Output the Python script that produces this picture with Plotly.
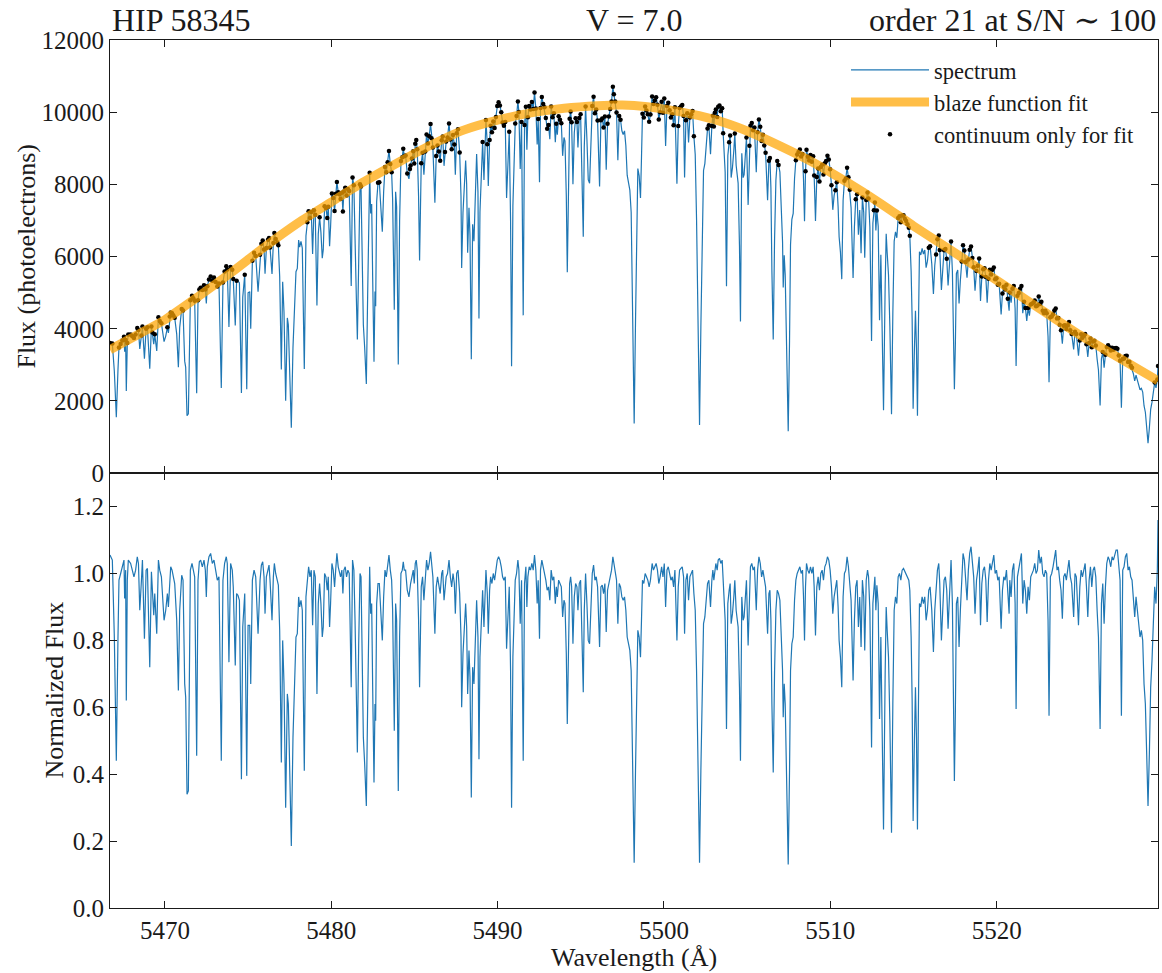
import numpy as np
import plotly.graph_objects as go
from plotly.subplots import make_subplots

# ---- normalized spectrum of echelle order 21, split into wavelength segments ----
WAVE_A = [5466.70, 5466.84, 5466.96, 5467.08, 5467.18, 5467.24, 5467.34, 5467.44, 5467.54, 5467.58,
          5467.64, 5467.68, 5467.74, 5467.80, 5467.94, 5468.04, 5468.14, 5468.24, 5468.34, 5468.41,
          5468.49, 5468.59, 5468.65, 5468.77, 5468.87, 5468.95, 5469.09, 5469.19, 5469.25, 5469.33,
          5469.39, 5469.45, 5469.51, 5469.61, 5469.69, 5469.79, 5469.87, 5469.95, 5470.05, 5470.15,
          5470.21, 5470.29, 5470.35, 5470.43, 5470.51, 5470.59, 5470.71, 5470.81, 5470.89, 5471.01,
          5471.09, 5471.19, 5471.25, 5471.33, 5471.41, 5471.47, 5471.53, 5471.63, 5471.71, 5471.79,
          5471.91, 5471.99, 5472.07, 5472.15, 5472.25, 5472.35, 5472.43, 5472.49, 5472.55, 5472.65,
          5472.75, 5472.85, 5472.95, 5473.05, 5473.15, 5473.25, 5473.39, 5473.49, 5473.59, 5473.69,
          5473.75, 5473.85, 5473.95, 5474.05, 5474.11, 5474.23, 5474.31, 5474.39, 5474.48, 5474.60,
          5474.68, 5474.80, 5474.92, 5475.00, 5475.10, 5475.16, 5475.26, 5475.36, 5475.46, 5475.60,
          5475.72]
NORM_A = [1.055, 1.04, 0.81, 0.44, 0.81, 0.98, 1.00, 1.02, 1.04, 0.925,
          1.01, 0.62, 0.98, 1.04, 1.03, 1.01, 0.99, 1.01, 1.05, 1.03,
          0.89, 0.98, 1.04, 0.805, 1.01, 1.015, 0.72, 1.005, 0.96, 0.875,
          0.94, 0.89, 0.82, 1.04, 1.01, 0.99, 0.93, 0.86, 0.89, 0.94,
          0.90, 1.00, 1.02, 1.01, 0.99, 0.97, 0.86, 0.65, 0.89, 0.995,
          0.98, 0.67, 0.63, 0.34, 0.35, 0.61, 1.01, 1.03, 1.01, 0.99,
          0.455, 0.98, 1.035, 1.04, 1.02, 1.04, 1.01, 0.93, 1.02, 1.05,
          1.06, 1.03, 1.04, 1.01, 0.98, 0.99, 0.44, 0.98, 1.03, 1.05,
          1.03, 0.735, 1.03, 1.01, 0.96, 0.725, 0.94, 0.935, 0.92, 0.385,
          0.84, 0.94, 0.395, 0.845, 0.845, 0.67, 0.98, 1.01, 0.99, 0.82,
          0.98]

WAVE_B = [5475.80, 5475.88, 5475.96, 5476.02, 5476.10, 5476.20, 5476.26, 5476.32, 5476.44, 5476.52,
          5476.58, 5476.66, 5476.76, 5476.82, 5476.90, 5477.00, 5477.08, 5477.16, 5477.26, 5477.36,
          5477.42, 5477.52, 5477.60, 5477.70, 5477.78, 5477.88, 5477.96, 5478.04, 5478.10, 5478.18,
          5478.26, 5478.38, 5478.48, 5478.56, 5478.64, 5478.72, 5478.80, 5478.88, 5478.96, 5479.04,
          5479.14, 5479.22, 5479.30, 5479.38, 5479.46, 5479.52, 5479.60, 5479.68, 5479.76, 5479.82,
          5479.90, 5479.96, 5480.04, 5480.12, 5480.20, 5480.28, 5480.34, 5480.42, 5480.48, 5480.56,
          5480.64, 5480.70, 5480.76, 5480.84, 5480.92, 5481.00, 5481.08, 5481.20, 5481.28, 5481.36,
          5481.43, 5481.51, 5481.57, 5481.65, 5481.73, 5481.79, 5481.87, 5481.93, 5482.01, 5482.11,
          5482.19, 5482.25, 5482.31, 5482.37, 5482.43, 5482.49, 5482.57, 5482.63, 5482.67, 5482.73,
          5482.81, 5482.89, 5482.95, 5483.07, 5483.15, 5483.23, 5483.31, 5483.39, 5483.47, 5483.55,
          5483.63, 5483.69, 5483.79, 5483.87, 5483.93, 5484.03, 5484.11, 5484.19, 5484.27, 5484.33,
          5484.39, 5484.47, 5484.57, 5484.67, 5484.73]
NORM_B = [1.025, 1.035, 0.99, 0.88, 0.99, 1.02, 1.025, 0.98, 0.86, 0.99,
          1.03, 1.00, 0.98, 0.965, 0.83, 0.435, 0.80, 0.67, 0.30, 0.64,
          0.61, 0.36, 0.185, 0.51, 0.67, 0.81, 0.82, 0.93, 0.90, 0.92,
          0.89, 0.41, 0.93, 0.98, 1.02, 0.99, 1.01, 0.845, 1.01, 0.99,
          0.64, 0.91, 0.97, 0.91, 0.81, 0.84, 1.00, 0.99, 0.95, 0.99,
          0.84, 0.91, 1.03, 1.01, 0.96, 1.02, 1.06, 1.02, 1.01, 0.99,
          1.01, 0.94, 1.01, 1.02, 0.99, 1.01, 1.00, 0.66, 1.04, 1.01,
          0.86, 0.61, 0.465, 0.79, 1.00, 0.99, 0.75, 0.51, 0.43, 0.305,
          0.61, 0.78, 1.02, 0.88, 0.91, 0.66, 0.375, 0.61, 0.56, 0.91,
          0.97, 0.97, 0.91, 0.80, 0.93, 1.01, 0.99, 1.02, 1.055, 1.01,
          0.98, 0.89, 0.53, 0.91, 0.86, 0.35, 0.81, 1.00, 1.01, 1.035,
          1.01, 1.01, 0.95, 0.93, 0.96]

WAVE_C = [5484.77, 5484.85, 5484.93, 5484.99, 5485.05, 5485.11, 5485.17, 5485.25, 5485.31, 5485.41,
          5485.49, 5485.57, 5485.65, 5485.73, 5485.81, 5485.89, 5485.97, 5486.03, 5486.11, 5486.23,
          5486.31, 5486.39, 5486.47, 5486.55, 5486.64, 5486.70, 5486.78, 5486.84, 5486.91, 5486.99,
          5487.08, 5487.16, 5487.24, 5487.32, 5487.40, 5487.46, 5487.54, 5487.62, 5487.72, 5487.80,
          5487.84, 5487.92, 5488.00, 5488.08, 5488.14, 5488.20, 5488.28, 5488.34, 5488.42, 5488.50,
          5488.58, 5488.66, 5488.74, 5488.82, 5488.88, 5488.94, 5489.02, 5489.10, 5489.18, 5489.24,
          5489.30, 5489.38, 5489.44, 5489.52, 5489.58, 5489.66, 5489.74, 5489.82, 5489.90, 5489.98,
          5490.06, 5490.14, 5490.22, 5490.30, 5490.38, 5490.46, 5490.54, 5490.62, 5490.70, 5490.78,
          5490.84, 5490.92, 5490.98, 5491.06, 5491.14, 5491.22, 5491.28, 5491.36, 5491.44, 5491.54,
          5491.62, 5491.70, 5491.76, 5491.82, 5491.90, 5491.98, 5492.06, 5492.14, 5492.22, 5492.30,
          5492.38, 5492.44, 5492.52, 5492.58, 5492.66, 5492.74, 5492.82, 5492.90, 5492.98, 5493.06,
          5493.14, 5493.22, 5493.30, 5493.38, 5493.47, 5493.53, 5493.59, 5493.67]
NORM_C = [0.97, 0.99, 1.01, 0.97, 1.03, 1.04, 1.01, 0.86, 0.66, 0.96,
          0.99, 0.92, 0.99, 1.04, 1.01, 1.03, 1.065, 1.02, 0.99, 0.82,
          0.96, 0.99, 0.97, 0.94, 1.00, 1.01, 0.92, 0.96, 0.99, 1.00,
          1.04, 0.99, 0.96, 1.00, 0.97, 0.88, 1.00, 1.01, 0.94, 0.81,
          0.60, 0.76, 0.86, 0.91, 0.84, 0.64, 0.77, 0.69, 0.33, 0.72,
          0.67, 0.81, 0.92, 0.81, 0.445, 0.75, 0.87, 0.95, 0.84, 0.93,
          1.01, 0.94, 0.82, 0.95, 0.99, 0.97, 1.00, 0.98, 1.01, 1.04,
          1.05, 1.04, 1.02, 0.99, 0.98, 0.99, 0.775, 0.87, 0.96, 0.71,
          0.30, 0.75, 0.89, 0.98, 1.00, 1.04, 1.01, 0.85, 0.98, 0.44,
          0.97, 1.02, 0.90, 0.99, 1.02, 1.01, 1.03, 1.01, 1.055, 1.01,
          0.91, 0.98, 0.805, 1.01, 1.04, 1.02, 1.01, 0.98, 0.95, 0.96,
          0.92, 1.01, 0.98, 0.99, 0.91, 0.96, 0.93, 0.98]

WAVE_D = [5493.75, 5493.83, 5493.91, 5493.99, 5494.05, 5494.13, 5494.19, 5494.27, 5494.33, 5494.39,
          5494.45, 5494.53, 5494.61, 5494.69, 5494.77, 5494.83, 5494.91, 5494.99, 5495.07, 5495.15,
          5495.21, 5495.29, 5495.37, 5495.45, 5495.53, 5495.61, 5495.69, 5495.77, 5495.85, 5495.93,
          5496.01, 5496.13, 5496.21, 5496.29, 5496.37, 5496.45, 5496.53, 5496.61, 5496.69, 5496.77,
          5496.85, 5496.93, 5496.99, 5497.07, 5497.15, 5497.23, 5497.31, 5497.39, 5497.47, 5497.55,
          5497.63, 5497.71, 5497.79, 5497.87, 5497.95, 5498.03, 5498.09, 5498.15, 5498.21, 5498.29,
          5498.35, 5498.43, 5498.51, 5498.59, 5498.65, 5498.71, 5498.79, 5498.87, 5498.95, 5499.03,
          5499.11, 5499.19, 5499.29, 5499.37, 5499.45, 5499.53, 5499.61, 5499.69, 5499.77, 5499.86,
          5499.94, 5500.02, 5500.10, 5500.18, 5500.26, 5500.34, 5500.42, 5500.50, 5500.58, 5500.66,
          5500.74, 5500.78, 5500.86, 5500.94, 5501.02, 5501.10, 5501.18, 5501.24, 5501.32, 5501.40,
          5501.48, 5501.56, 5501.64, 5501.72, 5501.80, 5501.88, 5501.96, 5502.04, 5502.10, 5502.14,
          5502.22, 5502.30, 5502.38, 5502.46, 5502.54, 5502.62, 5502.70]
NORM_D = [0.97, 0.96, 0.87, 0.92, 0.91, 0.76, 0.55, 0.81, 0.97, 0.99,
          0.96, 0.79, 0.93, 0.97, 0.96, 0.89, 0.97, 0.98, 0.80, 0.645,
          0.89, 1.00, 0.91, 0.80, 0.79, 0.93, 1.00, 1.025, 0.98, 0.99,
          0.96, 0.78, 0.96, 0.965, 0.94, 0.97, 0.825, 0.95, 0.97, 0.99,
          1.01, 1.05, 1.03, 1.01, 0.98, 0.85, 0.97, 0.96, 0.93, 0.92,
          0.93, 0.89, 0.81, 0.79, 0.77, 0.71, 0.51, 0.26, 0.135, 0.41,
          0.66, 0.83, 0.81, 0.75, 0.86, 0.98, 0.97, 1.00, 0.99, 0.98,
          0.96, 0.98, 1.03, 1.01, 1.02, 1.03, 1.01, 0.97, 0.99, 1.02,
          0.99, 1.03, 0.90, 1.01, 1.02, 1.00, 0.98, 0.99, 0.96, 1.01,
          0.89, 0.80, 0.96, 1.01, 1.015, 1.02, 0.99, 0.82, 0.98, 1.00,
          0.92, 0.99, 1.00, 1.01, 0.94, 0.89, 0.71, 0.46, 0.26, 0.135,
          0.41, 0.71, 0.85, 0.87, 0.93, 0.97, 0.98]

WAVE_E = [5502.80, 5502.88, 5502.94, 5503.00, 5503.06, 5503.12, 5503.20, 5503.26, 5503.34, 5503.42,
          5503.50, 5503.56, 5503.62, 5503.68, 5503.76, 5503.84, 5503.92, 5503.98, 5504.04, 5504.12,
          5504.20, 5504.26, 5504.34, 5504.40, 5504.46, 5504.54, 5504.60, 5504.68, 5504.76, 5504.82,
          5504.88, 5504.96, 5505.06, 5505.14, 5505.20, 5505.28, 5505.36, 5505.44, 5505.55, 5505.63,
          5505.71, 5505.79, 5505.87, 5505.95, 5506.03, 5506.11, 5506.23, 5506.31, 5506.37, 5506.43,
          5506.49, 5506.57, 5506.65, 5506.73, 5506.81, 5506.89, 5506.97, 5507.05, 5507.13, 5507.17,
          5507.23, 5507.29, 5507.37, 5507.47, 5507.55, 5507.61, 5507.69, 5507.77, 5507.85, 5507.93,
          5508.01, 5508.09, 5508.17, 5508.25, 5508.33, 5508.39, 5508.45, 5508.51, 5508.57, 5508.65,
          5508.73, 5508.81, 5508.89, 5508.97, 5509.03, 5509.11, 5509.19, 5509.27, 5509.35, 5509.43,
          5509.51, 5509.59, 5509.67, 5509.75, 5509.83, 5509.91, 5509.99, 5510.07, 5510.15, 5510.23,
          5510.31, 5510.39, 5510.47, 5510.53, 5510.61, 5510.69, 5510.77, 5510.85, 5510.93, 5511.01,
          5511.09, 5511.17, 5511.25, 5511.31, 5511.37, 5511.45, 5511.53, 5511.61, 5511.69]
NORM_E = [0.90, 0.98, 1.01, 0.98, 1.02, 1.03, 1.01, 1.04, 1.045, 1.03,
          1.04, 0.97, 0.93, 0.86, 0.535, 0.91, 0.95, 0.97, 0.85, 0.88,
          0.93, 0.98, 0.89, 0.85, 0.84, 0.66, 0.44, 0.93, 0.86, 0.87,
          0.93, 0.98, 0.785, 0.96, 1.02, 1.03, 1.01, 1.02, 0.89, 1.01,
          1.05, 1.03, 0.99, 1.01, 0.98, 0.96, 0.82, 0.94, 0.95, 0.86,
          0.61, 0.405, 0.71, 0.89, 0.95, 0.94, 0.92, 0.83, 0.71, 0.57,
          0.67, 0.61, 0.41, 0.13, 0.41, 0.71, 0.79, 0.81, 0.92, 0.98,
          1.00, 1.01, 1.02, 1.00, 1.01, 0.93, 0.80, 0.96, 1.03, 1.01,
          1.00, 1.02, 1.00, 1.02, 0.96, 0.815, 0.96, 0.99, 0.95, 1.00,
          1.01, 0.98, 1.02, 1.03, 1.05, 1.04, 1.01, 0.96, 0.88, 0.93,
          0.95, 0.98, 0.90, 0.80, 0.75, 0.66, 0.93, 1.00, 1.01, 1.05,
          1.02, 0.98, 0.92, 0.80, 0.68, 0.86, 0.96, 0.98, 0.84]

WAVE_F = [5511.77, 5511.85, 5511.93, 5512.01, 5512.07, 5512.16, 5512.24, 5512.30, 5512.38, 5512.48,
          5512.56, 5512.62, 5512.68, 5512.74, 5512.80, 5512.88, 5512.96, 5513.04, 5513.12, 5513.20,
          5513.30, 5513.36, 5513.42, 5513.50, 5513.58, 5513.68, 5513.76, 5513.84, 5513.92, 5514.00,
          5514.08, 5514.16, 5514.24, 5514.32, 5514.40, 5514.48, 5514.56, 5514.64, 5514.72, 5514.78,
          5514.86, 5514.92, 5514.98, 5515.06, 5515.12, 5515.18, 5515.24, 5515.30, 5515.36, 5515.44,
          5515.52, 5515.60, 5515.68, 5515.76, 5515.84, 5515.92, 5516.00, 5516.10, 5516.20, 5516.28,
          5516.36, 5516.44, 5516.52, 5516.58, 5516.68, 5516.76, 5516.84, 5516.92, 5517.00, 5517.08,
          5517.16, 5517.26, 5517.34, 5517.40, 5517.46, 5517.52, 5517.58, 5517.66, 5517.74, 5517.82,
          5517.90, 5517.98, 5518.06, 5518.14, 5518.22, 5518.30, 5518.38, 5518.46, 5518.54, 5518.62,
          5518.70, 5518.79, 5518.87, 5518.95, 5519.03, 5519.11, 5519.19, 5519.27, 5519.35, 5519.43,
          5519.51, 5519.59, 5519.67, 5519.75, 5519.83, 5519.91, 5519.99, 5520.07, 5520.15, 5520.27,
          5520.35, 5520.43, 5520.51, 5520.59, 5520.67, 5520.75]
NORM_F = [0.93, 0.78, 0.98, 0.93, 0.77, 0.98, 1.01, 0.99, 0.89, 0.48,
          0.91, 0.96, 0.99, 0.89, 0.965, 0.91, 0.565, 0.81, 0.51, 0.235,
          0.71, 0.90, 0.83, 0.75, 0.56, 0.225, 0.61, 0.89, 0.93, 0.91,
          0.99, 1.00, 0.98, 1.01, 1.015, 1.005, 1.00, 0.99, 0.98, 0.95,
          0.81, 0.62, 0.26, 0.51, 0.66, 0.51, 0.235, 0.61, 0.91, 0.90,
          0.93, 0.91, 0.93, 0.86, 0.89, 0.95, 0.96, 0.89, 0.765, 0.89,
          0.94, 1.01, 1.03, 0.97, 0.80, 0.91, 0.98, 0.99, 0.95, 0.835,
          0.91, 1.04, 0.91, 0.61, 0.38, 0.59, 0.91, 0.93, 0.78, 0.89,
          0.98, 1.06, 1.04, 0.99, 0.92, 1.01, 1.06, 1.08, 1.03, 0.99,
          0.88, 0.98, 1.01, 1.05, 0.845, 0.97, 1.01, 1.02, 0.98, 0.855,
          0.98, 1.03, 1.01, 1.04, 1.055, 1.00, 1.01, 0.98, 0.99, 0.835,
          0.95, 0.99, 0.98, 1.01, 0.94, 0.88]

WAVE_G = [5520.79, 5520.87, 5520.95, 5521.03, 5521.11, 5521.17, 5521.25, 5521.33, 5521.41, 5521.49,
          5521.57, 5521.65, 5521.73, 5521.81, 5521.89, 5521.97, 5522.05, 5522.13, 5522.21, 5522.29,
          5522.37, 5522.45, 5522.53, 5522.61, 5522.69, 5522.77, 5522.85, 5522.93, 5523.01, 5523.09,
          5523.15, 5523.23, 5523.31, 5523.39, 5523.47, 5523.55, 5523.63, 5523.71, 5523.79, 5523.87,
          5523.95, 5524.03, 5524.11, 5524.19, 5524.27, 5524.35, 5524.43, 5524.51, 5524.63, 5524.71,
          5524.79, 5524.92, 5525.00, 5525.08, 5525.16, 5525.24, 5525.32, 5525.40, 5525.48, 5525.56,
          5525.64, 5525.72, 5525.80, 5525.88, 5525.96, 5526.04, 5526.12, 5526.22, 5526.30, 5526.38,
          5526.46, 5526.54, 5526.62, 5526.70, 5526.78, 5526.86, 5526.94, 5527.02, 5527.10, 5527.18,
          5527.26, 5527.34, 5527.42, 5527.50, 5527.58, 5527.66, 5527.74, 5527.82, 5527.90, 5527.98,
          5528.06, 5528.14, 5528.22, 5528.30, 5528.38, 5528.46, 5528.54, 5528.62, 5528.70, 5528.78,
          5528.86, 5528.94, 5529.02, 5529.10, 5529.18, 5529.26, 5529.34, 5529.42, 5529.50, 5529.58,
          5529.66, 5529.70]
NORM_G = [0.98, 0.93, 1.01, 1.03, 0.91, 0.595, 0.99, 1.01, 1.04, 1.06,
          0.91, 0.98, 0.95, 0.88, 0.96, 0.92, 0.99, 1.00, 1.01, 1.03,
          1.00, 1.01, 1.07, 1.03, 1.05, 1.00, 0.99, 1.01, 1.00, 0.86,
          0.575, 0.99, 1.00, 1.02, 1.05, 1.07, 1.01, 1.02, 0.98, 0.95,
          0.865, 0.99, 1.00, 0.98, 1.01, 1.04, 0.99, 0.97, 0.87, 1.00,
          0.99, 0.845, 0.96, 1.01, 0.99, 1.01, 1.03, 0.96, 0.87, 0.98,
          1.02, 0.96, 1.01, 1.02, 0.99, 0.89, 0.81, 0.535, 0.91, 0.97,
          0.85, 0.96, 1.03, 1.05, 1.04, 1.02, 1.05, 1.04, 1.06, 1.07,
          1.07, 1.02, 0.98, 0.575, 1.01, 1.02, 1.05, 1.06, 1.01, 1.02,
          0.99, 0.98, 0.93, 0.87, 0.93, 0.89, 0.84, 0.81, 0.83, 0.80,
          0.67, 0.61, 0.46, 0.305, 0.46, 0.66, 0.74, 0.85, 0.96, 0.91,
          1.01, 1.16]

# ---- blaze function fit (photoelectrons) ----
BLAZE_WAVE = [5466.70, 5468.5, 5470.0, 5472.0, 5474.0, 5476.0, 5478.0, 5480.0, 5482.0, 5484.0,
              5486.0, 5488.0, 5490.0, 5492.0, 5494.0, 5496.0, 5497.5, 5499.0, 5501.0, 5503.0,
              5505.0, 5507.0, 5509.0, 5511.0, 5513.0, 5515.0, 5517.0, 5519.0, 5521.0, 5523.0,
              5525.0, 5527.0, 5529.70]
BLAZE_FLUX = [3420, 3870, 4250, 4890, 5560, 6270, 6930, 7510, 8080, 8600,
              9090, 9510, 9780, 9980, 10110, 10180, 10200, 10150, 10010, 9800,
              9480, 9060, 8600, 8060, 7480, 6850, 6250, 5650, 5040, 4430,
              3830, 3290, 2560]

# pixels kept as continuum for the blaze fit
CONTINUUM_CUT = 0.94

X_RANGE = [5466.70, 5529.70]
X_TICKS = [5470, 5480, 5490, 5500, 5510, 5520]
FLUX_TICKS = [0, 2000, 4000, 6000, 8000, 10000, 12000]
NORM_TICKS = [0.0, 0.2, 0.4, 0.6, 0.8, 1.0, 1.2]

segments = [(WAVE_A, NORM_A), (WAVE_B, NORM_B), (WAVE_C, NORM_C), (WAVE_D, NORM_D),
            (WAVE_E, NORM_E), (WAVE_F, NORM_F), (WAVE_G, NORM_G)]
for w, n in segments:
    assert len(w) == len(n)
wave = np.concatenate([np.array(w) for w, _ in segments])
norm = np.concatenate([np.array(n) for _, n in segments])

# raw flux = normalized flux x blaze
blaze_at_pixel = np.interp(wave, BLAZE_WAVE, BLAZE_FLUX)
flux = norm * blaze_at_pixel
cont = norm >= CONTINUUM_CUT

FONT = "Liberation Serif, DejaVu Serif, serif"
INK = "#1a1a1a"
BLUE = "#1f77b4"

fig = make_subplots(rows=2, cols=1, shared_xaxes=True, vertical_spacing=0)

fig.add_trace(go.Scatter(x=wave, y=flux, mode="lines", name="spectrum",
                         line=dict(color=BLUE, width=1.2),
                         legendgroup="g1", legendrank=1), row=1, col=1)
fig.add_trace(go.Scatter(x=wave[cont], y=flux[cont], mode="markers",
                         name="continuum only for fit",
                         marker=dict(color="black", size=4.5, line=dict(width=0)),
                         legendgroup="g3", legendrank=3), row=1, col=1)
fig.add_trace(go.Scatter(x=BLAZE_WAVE, y=BLAZE_FLUX, mode="lines",
                         name="blaze function fit", opacity=0.72,
                         line=dict(color="#FFA500", width=9, shape="spline", smoothing=0.6),
                         legendgroup="g2", legendrank=2), row=1, col=1)
fig.add_trace(go.Scatter(x=wave, y=norm, mode="lines", showlegend=False,
                         line=dict(color=BLUE, width=1.2)), row=2, col=1)

axis_style = dict(showline=True, linecolor=INK, linewidth=1.2, mirror="ticks",
                  ticks="inside", ticklen=7, tickwidth=1.1, tickcolor=INK,
                  showgrid=False, zeroline=False,
                  tickfont=dict(family=FONT, size=25, color=INK))

fig.update_xaxes(range=X_RANGE, tickvals=X_TICKS, **axis_style)
fig.update_xaxes(showticklabels=False, row=1, col=1)
fig.update_yaxes(**axis_style)
fig.update_yaxes(range=[0, 12000], tickvals=FLUX_TICKS,
                 ticktext=[str(v) for v in FLUX_TICKS], row=1, col=1)
fig.update_yaxes(range=[0, 1.30], tickvals=NORM_TICKS,
                 ticktext=[f"{v:.1f}" for v in NORM_TICKS], row=2, col=1)

split = 0.501
fig.update_layout(
    width=1162, height=973,
    margin=dict(l=110, r=4, t=40, b=65),
    paper_bgcolor="white", plot_bgcolor="white",
    yaxis=dict(domain=[split, 1.0]),
    yaxis2=dict(domain=[0.0, split]),
    showlegend=True,
    legend=dict(x=0.7023, y=0.99, xanchor="left", yanchor="top",
                bgcolor="rgba(0,0,0,0)", itemwidth=78, tracegroupgap=0,
                font=dict(family=FONT, size=22.5, color=INK)),
)

plot_w = 1162 - 110 - 4
plot_h = 973 - 40 - 65
title_font = dict(family=FONT, size=32, color=INK)
label_font = dict(family=FONT, size=26, color=INK)

annotations = [
    dict(text="HIP 58345", x=0.0, y=1.0, xanchor="left", yanchor="bottom", font=title_font),
    dict(text="V = 7.0", x=0.5, y=1.0, xanchor="center", yanchor="bottom", font=title_font),
    dict(text="order 21 at S/N \u223c 100", x=1.0, y=1.0, xanchor="right", yanchor="bottom",
         font=title_font),
    dict(text="Flux (photoelectrons)", x=(27 - 110) / plot_w, y=(1 + split) / 2,
         xanchor="center", yanchor="middle", textangle=-90, font=label_font),
    dict(text="Normalized Flux", x=(55 - 110) / plot_w, y=split / 2,
         xanchor="center", yanchor="middle", textangle=-90, font=label_font),
    dict(text="Wavelength (\u00c5)", x=0.5, y=-(958 - 908) / plot_h,
         xanchor="center", yanchor="middle", font=label_font),
]
for a in annotations:
    a.update(xref="paper", yref="paper", showarrow=False)
fig.update_layout(annotations=annotations)

fig.write_html("out.html")
